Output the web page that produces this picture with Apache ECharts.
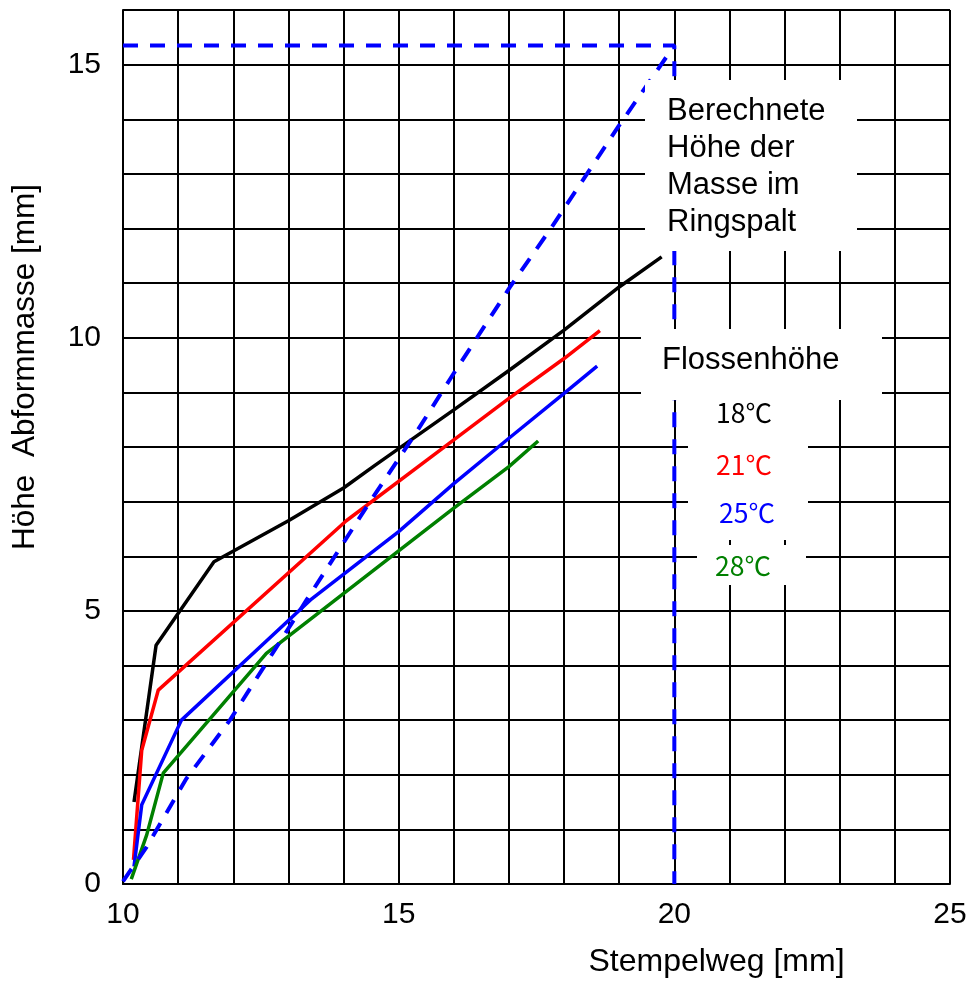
<!DOCTYPE html>
<html>
<head>
<meta charset="utf-8">
<script src="https://cdn.jsdelivr.net/npm/echarts@6/dist/echarts.min.js"></script>
<style>
  html, body { margin: 0; padding: 0; background: #fff; }
  #chart { width: 970px; height: 982px; }
</style>
</head>
<body>
<div id="chart"></div>
<script>
// Stempelweg (x, mm) vs. Höhe der Abformmasse (y, mm)
const xTickLabels = [10, 15, 20, 25];
const yTickLabels = [0, 5, 10, 15];

// Flossenhöhe at different temperatures
const flosse18 = [[10.2, 1.5], [10.6, 4.37], [11.65, 5.9], [13.0, 6.65], [14.0, 7.25], [14.55, 7.65],
                  [15.0, 7.97], [16.0, 8.68], [17.0, 9.4], [18.0, 10.14], [19.0, 10.93], [19.77, 11.48]];
const flosse21 = [[10.19, 0.44], [10.34, 2.45], [10.64, 3.55], [14.05, 6.65], [16.0, 8.13],
                  [17.0, 8.89], [18.0, 9.62], [18.65, 10.13]];
const flosse25 = [[10.2, 0.32], [10.34, 1.45], [11.06, 3.0], [13.4, 5.2], [15.0, 6.45],
                  [16.0, 7.33], [17.0, 8.16], [18.0, 8.98], [18.6, 9.48]];
const flosse28 = [[10.15, 0.09], [10.43, 0.9], [10.73, 2.03], [12.6, 4.22], [14.9, 6.02],
                  [16.0, 6.88], [17.0, 7.64], [17.53, 8.11]];

// calculated height of the mass in the annular gap
const ringspalt = [[10.0, 0.05], [10.43, 0.68], [11.15, 1.93], [11.94, 3.0], [13.33, 5.2], [14.48, 7.0],
                   [15.27, 8.19], [16.0, 9.35], [17.02, 10.93], [17.78, 12.03], [18.98, 13.86], [20.0, 15.35]];
const ringspaltLimit = [[10.0, 15.35], [20.0, 15.35], [20.0, 0]];

const FONT = '"Liberation Sans", Arial, Helvetica, sans-serif';
const CJK = '"Noto Sans CJK JP", sans-serif';

const chart = echarts.init(document.getElementById('chart'), null, { renderer: 'canvas' });

function solid(name, data, color) {
  return {
    name, type: 'line', data, symbol: 'none', smooth: false,
    lineStyle: { color, width: 3.5 }, z: 3
  };
}

function dashed(name, data) {
  return {
    name, type: 'line', data, symbol: 'none',
    lineStyle: { color: '#0000ff', width: 4, type: [15, 12] }, z: 4
  };
}

const gridLine = { show: true, lineStyle: { color: '#000', width: 2, type: 'solid' } };

function whiteBox(x, y, w, h) {
  return { type: 'rect', shape: { x, y, width: w, height: h }, style: { fill: '#fff' }, z: 100, silent: true };
}
function label(text, x, y, size, color, family, lineHeight) {
  return {
    type: 'text', x, y, z: 101, silent: true,
    style: {
      text, fill: color, fontSize: size, fontFamily: family,
      lineHeight: lineHeight || size, textAlign: 'left', verticalAlign: 'middle'
    }
  };
}

chart.setOption({
  animation: false,
  backgroundColor: '#fff',
  grid: { left: 123, right: 20, top: 10, bottom: 98, containLabel: false, outerBoundsMode: 'none' },
  xAxis: {
    type: 'value', min: 10, max: 25, interval: 1,
    name: 'Stempelweg [mm]', nameLocation: 'middle', nameGap: 62,
    nameTextStyle: { fontSize: 32, fontFamily: FONT, color: '#000', padding: [0, 0, 0, 360] },
    axisLine: { show: true, lineStyle: { color: '#000', width: 2 } },
    axisTick: { show: false },
    axisLabel: {
      fontSize: 30, fontFamily: FONT, color: '#000', margin: 16,
      formatter: v => (xTickLabels.includes(v) ? String(v) : '')
    },
    splitLine: gridLine
  },
  yAxis: {
    type: 'value', min: 0, max: 16, interval: 1,
    name: 'Höhe  Abformmasse [mm]', nameLocation: 'middle', nameGap: 82,
    nameTextStyle: { fontSize: 31.5, fontFamily: FONT, color: '#000', padding: [0, 0, 0, 160] },
    axisLine: { show: true, lineStyle: { color: '#000', width: 2 } },
    axisTick: { show: false },
    axisLabel: {
      fontSize: 30, fontFamily: FONT, color: '#000', margin: 22,
      formatter: v => (yTickLabels.includes(v) ? String(v) : '')
    },
    splitLine: gridLine
  },
  series: [
    solid('18℃', flosse18, '#000000'),
    solid('21℃', flosse21, '#ff0000'),
    solid('25℃', flosse25, '#0000ff'),
    solid('28℃', flosse28, '#008000'),
    dashed('Berechnete Höhe', ringspalt),
    dashed('Grenze', ringspaltLimit)
  ],
  graphic: [
    whiteBox(645, 80, 212, 171),
    label('Berechnete\nHöhe der\nMasse im\nRingspalt', 667, 166.5, 31, '#000', FONT, 37),
    whiteBox(641, 329, 241, 71),
    label('Flossenhöhe', 662, 360, 31, '#000', FONT),
    whiteBox(688, 398, 120, 142),
    whiteBox(697, 545, 109, 40),
    label('18℃', 716, 413, 26.5, '#000000', CJK),
    label('21℃', 716, 465, 26.5, '#ff0000', CJK),
    label('25℃', 719, 513, 26.5, '#0000ff', CJK),
    label('28℃', 715, 566, 26.5, '#008000', CJK)
  ]
});
</script>
</body>
</html>
